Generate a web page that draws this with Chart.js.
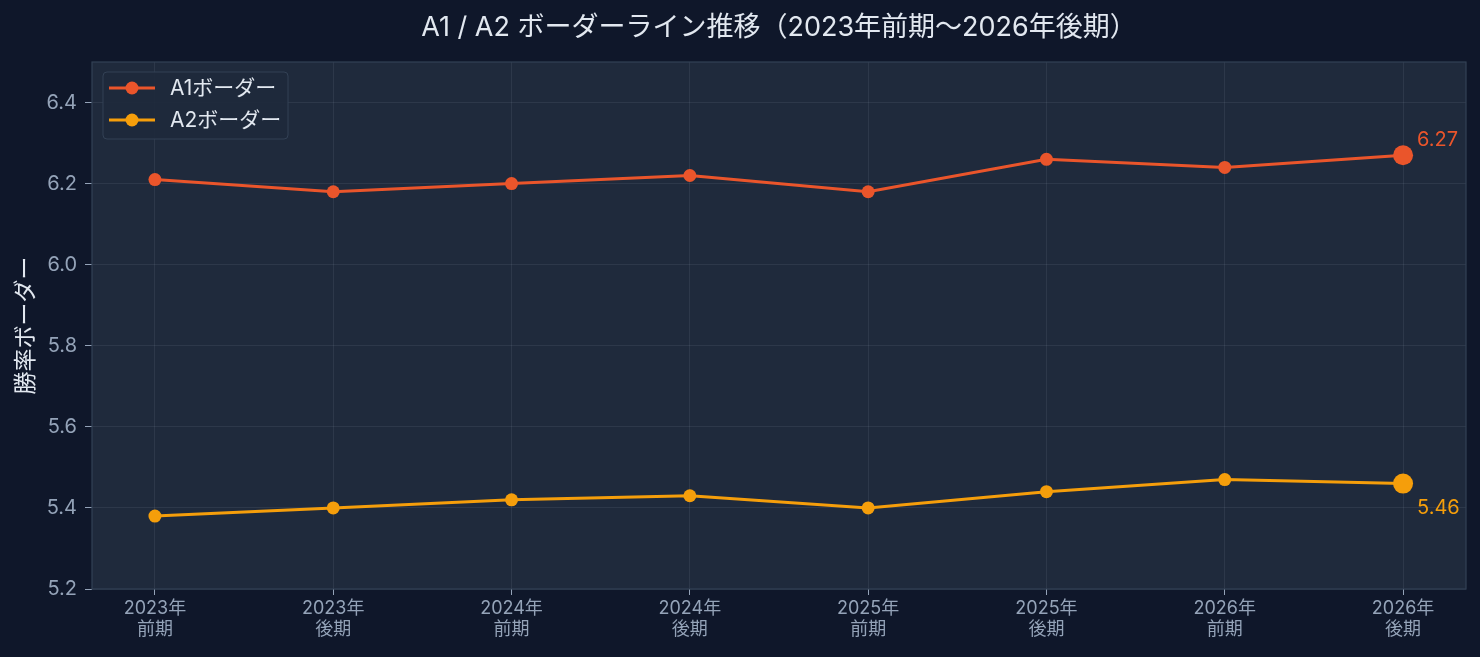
<!DOCTYPE html>
<html>
<head>
<meta charset="utf-8">
<script src="https://cdn.jsdelivr.net/npm/chart.js"></script>
<style>
  html, body { margin: 0; padding: 0; background: #0f172a; }
  #wrap { width: 1480px; height: 657px; }
</style>
</head>
<body>
<div id="wrap"><canvas id="myChart" width="1480" height="657"></canvas></div>
<script>
const periods = [
  ["2023年", "前期"], ["2023年", "後期"], ["2024年", "前期"], ["2024年", "後期"],
  ["2025年", "前期"], ["2025年", "後期"], ["2026年", "前期"], ["2026年", "後期"]
];
const a1 = [6.21, 6.18, 6.20, 6.22, 6.18, 6.26, 6.24, 6.27];
const a2 = [5.38, 5.40, 5.42, 5.43, 5.40, 5.44, 5.47, 5.46];
const seriesNames = ["A1ボーダー", "A2ボーダー"];
const yTicks = [5.2, 5.4, 5.6, 5.8, 6.0, 6.2, 6.4];

const colors = ["#ea552b", "#f59e0b"];
const font = "Inter, 'Noto Sans CJK JP', sans-serif";
const last = periods.length - 1;

const chromePlugin = {
  id: "chrome",
  beforeDraw(chart) {
    const { ctx, chartArea: a } = chart;
    ctx.save();
    ctx.fillStyle = "#0f172a";
    ctx.fillRect(0, 0, chart.width, chart.height);
    ctx.fillStyle = "#1f2a3c";
    ctx.fillRect(a.left, a.top, a.right - a.left, a.bottom - a.top);
    ctx.restore();
  },
  afterDraw(chart) {
    const { ctx, chartArea: a } = chart;
    ctx.save();
    // spines
    ctx.strokeStyle = "#334155";
    ctx.lineWidth = 1.2;
    ctx.strokeRect(a.left, a.top, a.right - a.left, a.bottom - a.top);
    // title, centred over the plot area
    ctx.fillStyle = "#e2e8f0";
    ctx.font = "27px " + font;
    ctx.textAlign = "center";
    ctx.textBaseline = "middle";
    ctx.fillText("A1 / A2 ボーダーライン推移（2023年前期〜2026年後期）", (a.left + a.right) / 2, 28);
    // y axis title
    ctx.save();
    ctx.translate(26, (a.top + a.bottom) / 2);
    ctx.rotate(-Math.PI / 2);
    ctx.font = "23px " + font;
    ctx.fillText("勝率ボーダー", 0, 0);
    ctx.restore();
    // end value labels
    ctx.font = "20px " + font;
    ctx.textAlign = "left";
    chart.data.datasets.forEach((ds, i) => {
      const pt = chart.getDatasetMeta(i).data[last];
      ctx.fillStyle = colors[i];
      const dy = i === 0 ? -15 : 24;
      ctx.fillText(ds.data[last].y.toFixed(2), pt.x + 14, pt.y + dy);
    });
    // legend
    const lx = 103, ly = 72, lw = 185, lh = 67;
    ctx.beginPath();
    ctx.roundRect(lx, ly, lw, lh, 4);
    ctx.fillStyle = "rgba(30,41,59,0.9)";
    ctx.fill();
    ctx.strokeStyle = "#334155";
    ctx.lineWidth = 1;
    ctx.stroke();
    ctx.font = "21px " + font;
    chart.data.datasets.forEach((ds, i) => {
      const y = 88 + i * 32;
      ctx.strokeStyle = colors[i];
      ctx.lineWidth = 3;
      ctx.beginPath();
      ctx.moveTo(109, y);
      ctx.lineTo(155, y);
      ctx.stroke();
      ctx.beginPath();
      ctx.arc(132, y, 6.5, 0, Math.PI * 2);
      ctx.fillStyle = colors[i];
      ctx.fill();
      ctx.fillStyle = "#e2e8f0";
      ctx.textBaseline = "middle";
      ctx.fillText(ds.label, 170, y + 1);
    });
    ctx.restore();
  }
};

function makeDataset(name, values, color) {
  return {
    label: name,
    data: values.map((v, i) => ({ x: i, y: v })),
    borderColor: color,
    backgroundColor: color,
    borderWidth: 3,
    pointRadius: c => (c.dataIndex === last ? 10 : 6.5),
    pointHoverRadius: c => (c.dataIndex === last ? 10 : 6.5),
    pointBorderWidth: 0,
    tension: 0
  };
}

new Chart(document.getElementById("myChart"), {
  type: "line",
  data: {
    datasets: [
      makeDataset(seriesNames[0], a1, colors[0]),
      makeDataset(seriesNames[1], a2, colors[1])
    ]
  },
  options: {
    responsive: false,
    animation: false,
    layout: { padding: { top: 62, right: 14, left: 0, bottom: 0 } },
    plugins: {
      legend: { display: false },
      title: { display: false },
      tooltip: { enabled: false }
    },
    scales: {
      x: {
        type: "linear",
        min: -0.353,
        max: last + 0.353,
        afterBuildTicks: s => { s.ticks = periods.map((p, i) => ({ value: i })); },
        afterFit: s => { s.height = 68; },
        ticks: {
          color: "#94a3b8",
          font: { family: font, size: 18, lineHeight: 1.18 },
          padding: 3,
          maxRotation: 0,
          autoSkip: false,
          callback: v => periods[v]
        },
        grid: { color: "rgba(148,163,184,0.12)", tickColor: "#94a3b8", tickLength: 6, lineWidth: 1 },
        border: { display: false }
      },
      y: {
        min: 5.2,
        max: 6.5,
        afterBuildTicks: s => { s.ticks = yTicks.map(v => ({ value: v })); },
        afterFit: s => { s.width = 92; },
        ticks: {
          color: "#94a3b8",
          font: { family: font, size: 20 },
          padding: 8,
          callback: v => v.toFixed(1)
        },
        grid: { color: "rgba(148,163,184,0.12)", tickColor: "#94a3b8", tickLength: 7, lineWidth: 1 },
        border: { display: false }
      }
    }
  },
  plugins: [chromePlugin]
});
</script>
</body>
</html>
